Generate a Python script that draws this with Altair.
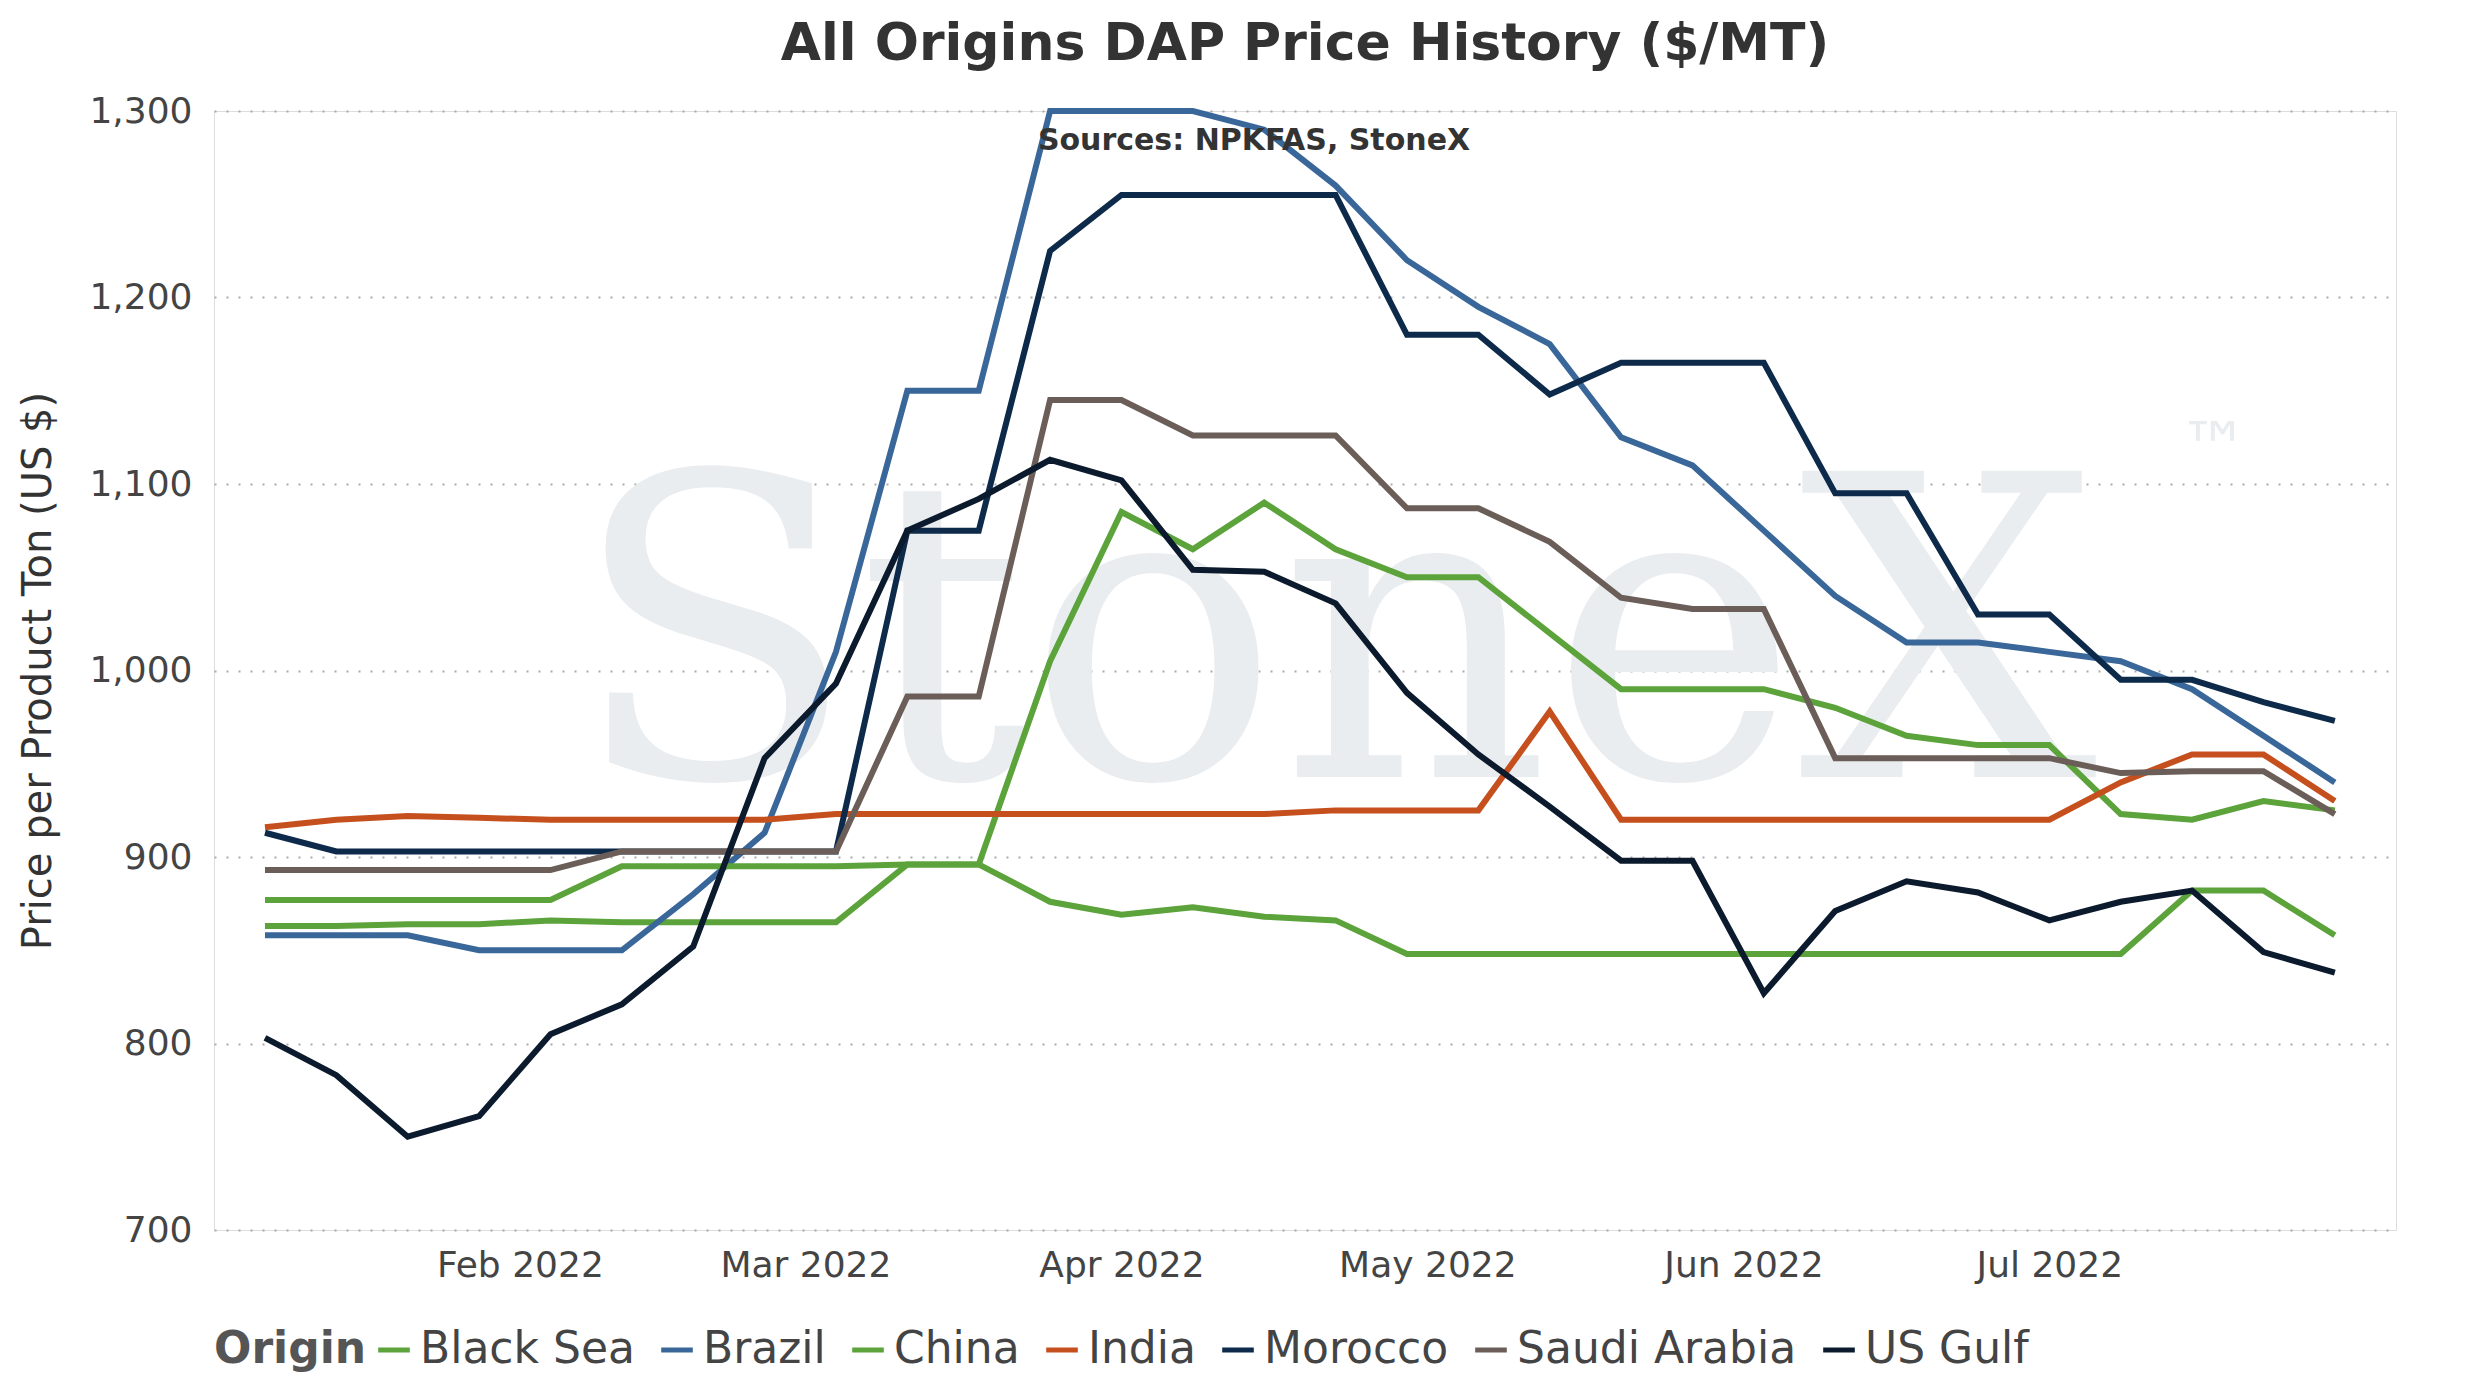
import altair as alt
import pandas as pd

dates = pd.date_range("2022-01-07", periods=30, freq="7D").strftime("%Y-%m-%d").tolist()

black_sea = [863, 863, 864, 864, 866, 865, 865, 865, 865, 896, 896, 876, 869, 873, 868, 866,
             848, 848, 848, 848, 848, 848, 848, 848, 848, 848, 848, 882, 882, 858]
brazil = [858, 858, 858, 850, 850, 850, 880, 913, 1010, 1150, 1150, 1300, 1300, 1300, 1290, 1260,
          1220, 1195, 1175, 1125, 1110, 1075, 1040, 1015, 1015, 1010, 1005, 990, 965, 940]
china = [877, 877, 877, 877, 877, 895, 895, 895, 895, 896, 896, 1005, 1085, 1065, 1090, 1065,
         1050, 1050, 1020, 990, 990, 990, 980, 965, 960, 960, 923, 920, 930, 925]
india = [916, 920, 922, 921, 920, 920, 920, 920, 923, 923, 923, 923, 923, 923, 923, 925,
         925, 925, 978, 920, 920, 920, 920, 920, 920, 920, 940, 955, 955, 930]
morocco = [913, 903, 903, 903, 903, 903, 903, 903, 903, 1075, 1075, 1225, 1255, 1255, 1255, 1255,
           1180, 1180, 1148, 1165, 1165, 1165, 1095, 1095, 1030, 1030, 995, 995, 983, 973]
saudi = [893, 893, 893, 893, 893, 903, 903, 903, 903, 986, 986, 1145, 1145, 1126, 1126, 1126,
         1087, 1087, 1069, 1039, 1033, 1033, 953, 953, 953, 953, 945, 946, 946, 923]
us_gulf = [803, 783, 750, 761, 805, 821, 852, 953, 993, 1075, 1092, 1113, 1102, 1054, 1053, 1036,
           988, 955, 927, 898, 898, 827, 871, 887, 881, 866, 876, 882, 849, 838]

series = {
    "Black Sea": black_sea, "Brazil": brazil, "China": china, "India": india,
    "Morocco": morocco, "Saudi Arabia": saudi, "US Gulf": us_gulf,
}
colors = ["#5ba33a", "#3a6799", "#5ba33a", "#c5501e", "#0d2a4a", "#6b5e58", "#0b1a2c"]
month_ticks = ["2022-02-01", "2022-03-01", "2022-04-01", "2022-05-01", "2022-06-01", "2022-07-01"]

rows = []
for name, vals in series.items():
    for d, v in zip(dates, vals):
        rows.append({"date": d, "price": v, "origin": name})
df = pd.DataFrame(rows)

F = "DejaVu Sans"

watermark = alt.Chart(pd.DataFrame({"t": ["StoneX"]})).mark_text(
    font="DejaVu Serif", fontSize=420, color="#e9edf0", align="center", baseline="middle"
).encode(text="t:N", x=alt.value(1120), y=alt.value(540))

tm = alt.Chart(pd.DataFrame({"t": ["™"]})).mark_text(
    font=F, fontSize=70, color="#e9edf0"
).encode(text="t:N", x=alt.value(2000), y=alt.value(340))

src = alt.Chart(pd.DataFrame({"t": ["Sources: NPKFAS, StoneX"]})).mark_text(
    font=F, fontSize=30, fontWeight="bold", color="#333333"
).encode(text="t:N", x=alt.value(1040), y=alt.value(30))

lines = alt.Chart(df).mark_line(strokeWidth=6).encode(
    x=alt.X("date:T", title=None,
            scale=alt.Scale(domain=["2022-01-02", "2022-08-04"]),
            axis=alt.Axis(format="%b %Y", values=month_ticks,
                          grid=False, labelFontSize=36, labelColor="#444444",
                          labelFont=F, domain=False, ticks=False, labelPadding=18)),
    y=alt.Y("price:Q", title="Price per Product Ton (US $)",
            scale=alt.Scale(domain=[700, 1300]),
            axis=alt.Axis(values=[700, 800, 900, 1000, 1100, 1200, 1300], format=",.0f",
                          gridDash=[2, 10], gridWidth=2, gridColor="#aaaaaa", domain=False,
                          ticks=False, labelFontSize=36, labelColor="#444444", labelFont=F,
                          titleFontSize=40, titleFont=F, titleFontWeight="normal",
                          titleColor="#333333", labelPadding=22, titlePadding=30)),
    color=alt.Color("origin:N", title="Origin",
                    scale=alt.Scale(domain=list(series.keys()), range=colors),
                    legend=alt.Legend(orient="bottom", direction="horizontal",
                                      titleOrient="left", symbolType="stroke",
                                      symbolStrokeWidth=5, symbolSize=1000, labelLimit=0,
                                      labelFontSize=44, titleFontSize=44, labelFont=F,
                                      titleFont=F, titleColor="#555555", labelColor="#444444",
                                      columnPadding=16, offset=45)),
)

chart = (watermark + tm + lines + src).properties(
    width=2458, height=1384,
    padding={"left": 10, "right": 70, "top": 10, "bottom": 20},
    autosize=alt.AutoSizeParams(type="fit", contains="padding"),
    title=alt.Title("All Origins DAP Price History ($/MT)", fontSize=52, font=F,
                    fontWeight="bold", color="#333333", offset=22),
).configure_view(stroke=None).configure(background="white")

chart.save("out.html", embed_options={"renderer": "svg", "actions": False})
